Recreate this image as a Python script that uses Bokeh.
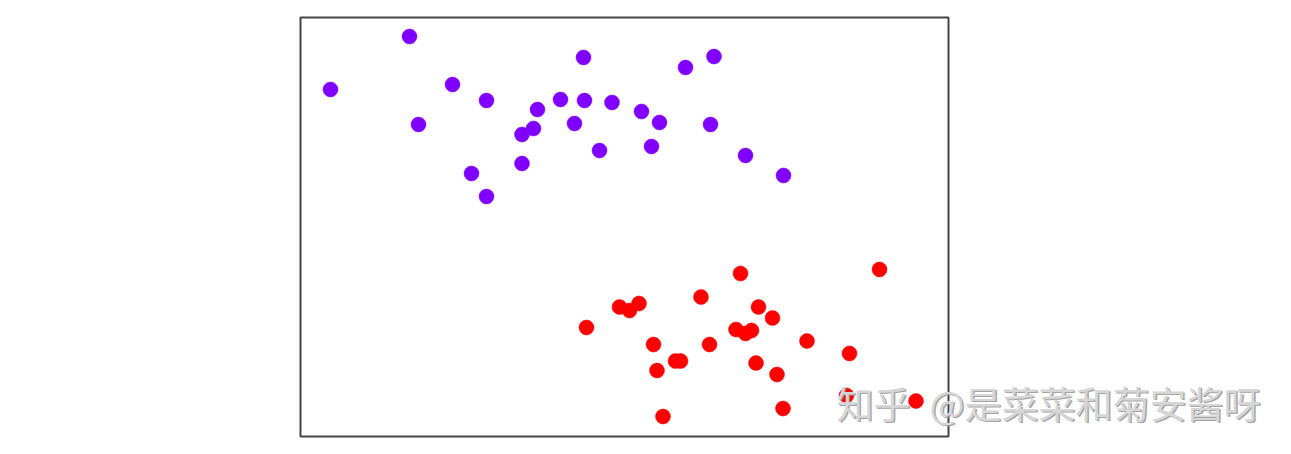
from bokeh.plotting import figure
from bokeh.models import Range1d, Label, BoxAnnotation
from bokeh.embed import file_html
from bokeh.resources import INLINE

# Cluster 0 (purple)
x0 = [30, 109, 118, 152, 186, 171, 186, 221.5, 233, 237, 221.5, 260, 283, 284, 274,
      299, 311.5, 341, 359, 351, 385, 413.5, 410, 445, 483]
y0 = [347, 400, 312, 352, 336, 263, 240, 302, 308, 327, 273, 337, 379, 336, 313,
      286, 334, 325, 314, 290, 369, 380, 312, 281, 261]
# Cluster 1 (red)
x1 = [579, 440, 400.5, 319, 329, 338.5, 286, 458, 472, 435.5, 445, 451, 353, 409,
      506.5, 549, 375, 380, 356.5, 455.5, 476.5, 546, 615.5, 482.5, 362.5]
y1 = [167, 163, 139.5, 129.5, 126, 133, 109, 129.5, 118.5, 107, 103, 106, 92, 92,
      95.5, 83, 75.5, 75.5, 66, 73.5, 62, 41, 35.5, 28, 20]

colors = ["#8000ff", "#ff0000"]
watermark_parts = ["知乎", "@是菜菜和菊安酱呀"]

# axes box limits (data units)
x_lo, x_hi = 0, 648
y_lo, y_hi = 0, 419

p = figure(width=1283, height=446, output_backend="svg", toolbar_location=None,
           x_range=Range1d(-300, 983), y_range=Range1d(-10, 436),
           min_border_left=0, min_border_right=0, min_border_top=0, min_border_bottom=0)
p.xaxis.visible = False
p.yaxis.visible = False
p.xgrid.visible = False
p.ygrid.visible = False
p.outline_line_color = None
p.background_fill_color = "white"
p.border_fill_color = "white"

p.add_layout(BoxAnnotation(left=x_lo, right=x_hi, bottom=y_lo, top=y_hi,
                           fill_alpha=0, line_color="#444444", line_width=2, line_alpha=1))

p.scatter(x=x0, y=y0, size=15, fill_color=colors[0], line_color=colors[0], line_width=0.5)
p.scatter(x=x1, y=y1, size=15, fill_color=colors[1], line_color=colors[1], line_width=0.5)

positions = [(536, 34), (629, 34)]
for txt, (lx, ly) in zip(watermark_parts, positions):
    p.add_layout(Label(x=lx + 1.5, y=ly - 1.5, text=txt, text_font="Noto Sans CJK SC",
                       text_font_size="37px", text_color="#999999", text_baseline="middle",
                       text_alpha=0.9))
    p.add_layout(Label(x=lx, y=ly, text=txt, text_font="Noto Sans CJK SC",
                       text_font_size="37px", text_color="#d6d6d6", text_baseline="middle"))

open("out.html", "w").write(file_html(p, INLINE))
